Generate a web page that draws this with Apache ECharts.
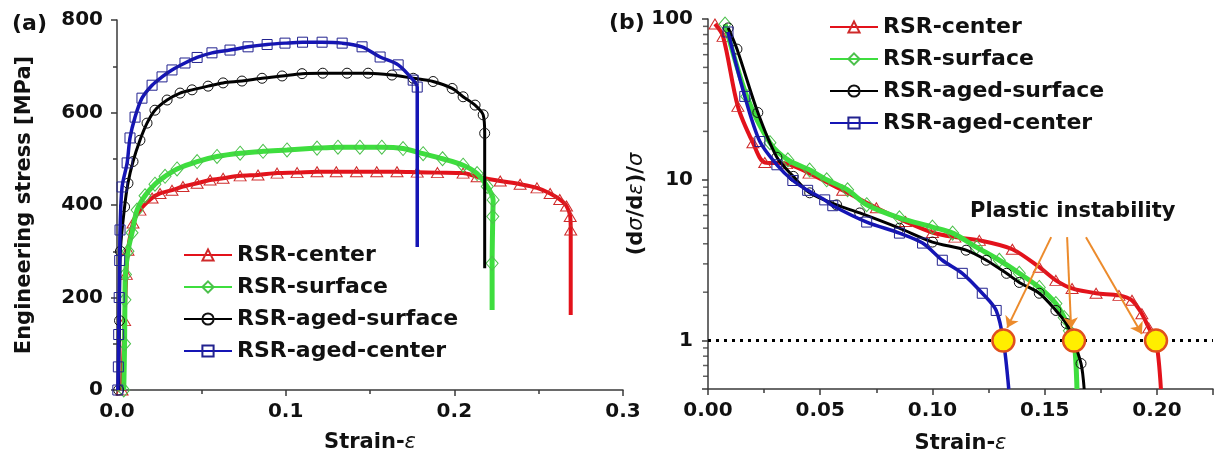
<!DOCTYPE html>
<html><head><meta charset="utf-8">
<script src="https://cdn.jsdelivr.net/npm/echarts@6/dist/echarts.min.js"></script>
<style>html,body{margin:0;padding:0;background:#fff}#c{width:1217px;height:464px}</style>
</head><body><div id="c"></div>
<script>
// ---------- data ----------
const seriesNames = ['RSR-center', 'RSR-surface', 'RSR-aged-surface', 'RSR-aged-center'];

// Panel (a): engineering stress [MPa] vs strain
const aCenter = [[0.003,0],[0.0045,150],[0.0055,250],[0.0065,302],[0.0095,361],[0.0136,389],[0.0208,415],[0.0255,425],[0.0326,432],[0.0391,440],[0.0475,447],[0.0552,454],[0.0629,458],[0.073,463],[0.0836,465],[0.0949,469],[0.1068,470],[0.1186,472],[0.13,472],[0.142,472],[0.154,472],[0.166,472],[0.178,471],[0.19,470],[0.2052,469],[0.2135,461],[0.2272,452],[0.239,445],[0.249,437],[0.2568,425],[0.2625,412],[0.2665,398],[0.2687,375],[0.269,346]];
const aCenterDrop = [[0.269,162]];
const aSurface = [[0.004,0],[0.0045,100],[0.0047,195],[0.005,250],[0.0065,300],[0.0089,340],[0.0119,389],[0.0166,420],[0.0225,445],[0.0285,462],[0.0356,478],[0.0475,494],[0.0593,505],[0.073,512],[0.0866,516],[0.1008,519],[0.1186,523],[0.131,525],[0.144,525],[0.157,525],[0.1696,522],[0.1815,511],[0.193,500],[0.2052,486],[0.2135,468],[0.2195,440],[0.223,411],[0.2228,375],[0.2224,274]];
const aSurfaceDrop = [[0.2224,173]];
const aAgedSurface = [[0.001,0],[0.0015,150],[0.002,300],[0.0045,396],[0.0065,447],[0.0095,494],[0.0136,540],[0.0178,577],[0.0225,605],[0.0297,627],[0.0374,642],[0.0445,649],[0.054,657],[0.0629,664],[0.0741,668],[0.086,674],[0.0979,679],[0.1097,684],[0.122,685],[0.1364,685],[0.1489,685],[0.163,681],[0.1756,674],[0.1874,667],[0.1987,652],[0.2052,634],[0.2123,616],[0.2171,595],[0.2180,555]];
const aAgedSurfaceDrop = [[0.2180,263]];
const aAgedCenter = [[0.0005,0],[0.0008,50],[0.001,120],[0.0013,200],[0.0016,280],[0.0018,346],[0.003,439],[0.006,491],[0.0077,545],[0.0107,590],[0.0148,631],[0.0208,659],[0.0267,677],[0.0326,692],[0.0403,707],[0.0475,719],[0.0563,729],[0.067,735],[0.0777,742],[0.089,747],[0.0996,750],[0.11,752],[0.1216,752],[0.1335,750],[0.1453,742],[0.156,720],[0.1667,703],[0.1756,670],[0.178,655]];
const aAgedCenterDrop = [[0.178,309]];

// Panel (b): (dσ/dε)/σ vs strain (log scale)
const bCenter = [[0.0031,93],[0.0067,78],[0.0133,28.6],[0.02,17],[0.0253,12.8],[0.035,12.6],[0.045,11.0],[0.06,8.6],[0.075,6.7],[0.088,5.5],[0.1,4.7],[0.11,4.4],[0.1209,4.2],[0.1356,3.7],[0.1476,2.86],[0.155,2.37],[0.1622,2.11],[0.1729,1.97],[0.1831,1.91],[0.1889,1.78],[0.1933,1.47],[0.1964,1.2]];
const bCenterDrop = [[0.1996,1.0],[0.2018,0.5]];
const bSurface = [[0.0076,93],[0.0173,33],[0.0276,17],[0.0356,13.3],[0.0453,11.5],[0.0529,10],[0.0622,8.66],[0.0707,7.0],[0.0853,5.8],[0.1,5.08],[0.109,4.66],[0.1196,3.81],[0.1298,3.16],[0.1387,2.62],[0.1476,2.14],[0.155,1.7],[0.1587,1.39],[0.161,1.15]];
const bSurfaceDrop = [[0.1631,1.0],[0.1644,0.5]];
const bAgedSurface = [[0.009,88],[0.0129,65],[0.0222,26.2],[0.0307,13.8],[0.038,10.5],[0.0453,8.3],[0.0573,6.98],[0.0676,6.22],[0.0853,5.0],[0.1,4.1],[0.115,3.65],[0.124,3.16],[0.133,2.62],[0.1387,2.3],[0.1476,1.97],[0.155,1.54],[0.1596,1.28],[0.1618,1.1],[0.1662,0.72]];
const bAgedSurfaceDrop = [[0.1676,0.5]];
const bAgedCenter = [[0.0089,83],[0.0164,33],[0.0231,17.3],[0.0307,12.4],[0.0378,9.9],[0.0444,8.6],[0.052,7.5],[0.0556,6.9],[0.0707,5.46],[0.0853,4.66],[0.0956,4.04],[0.1044,3.16],[0.1133,2.62],[0.1222,1.97],[0.1284,1.54]];
const bAgedCenterDrop = [[0.1316,1.0],[0.134,0.5]];

const instabilityStrain = [0.1316, 0.1631, 0.1996];
const arrowStart = [[0.1529,4.4],[0.1600,4.4],[0.1684,4.4]];
const arrowEnd = [[0.1333,1.2],[0.1618,1.19],[0.1933,1.1]];
const logMinorTicks = [0.6,0.7,0.8,0.9,2,3,4,5,6,7,8,9,20,30,40,50,60,70,80,90];

// ---------- styles ----------
const FONT = 'DejaVu Sans';
const styles = [
  {color:'#e3121b', mark:'#cf2a2a', symbol:'triangle', size:[12,10], width:4, z:3},
  {color:'#3ede3e', mark:'#4cc04c', symbol:'diamond', size:[12,14], width:5, z:4},
  {color:'#000000', mark:'#111111', symbol:'circle', size:10, width:3, z:5},
  {color:'#1515b5', mark:'#22228f', symbol:'rect', size:10, width:3.5, z:6}
];
const aSets = [[aCenter,aCenterDrop],[aSurface,aSurfaceDrop],[aAgedSurface,aAgedSurfaceDrop],[aAgedCenter,aAgedCenterDrop]];
const bSets = [[bCenter,bCenterDrop],[bSurface,bSurfaceDrop],[bAgedSurface,bAgedSurfaceDrop],[bAgedCenter,bAgedCenterDrop]];

function mkSeries(sets, axisIdx) {
  return sets.map((s, i) => {
    const st = styles[i];
    return {
      type: 'line', name: seriesNames[i], xAxisIndex: axisIdx, yAxisIndex: axisIdx,
      data: s[0].map(p => p).concat(s[1].map(p => ({value: p, symbol: 'none'}))),
      smooth: 0.3, symbol: st.symbol, symbolSize: st.size, showSymbol: true,
      lineStyle: {color: st.color, width: st.width},
      itemStyle: {color: 'rgba(255,255,255,0)', borderColor: st.mark, borderWidth: 1},
      emphasis: {disabled: true}, z: st.z, clip: true
    };
  });
}

const axisLine = {show: true, lineStyle: {color: '#3a3a3a', width: 1.5}};
const axisTick = {show: true, inside: false, length: 6, lineStyle: {color: '#3a3a3a', width: 1.5}};
const minorTick = {show: true, splitNumber: 2, length: 4, lineStyle: {color: '#3a3a3a', width: 1.5}};
const labelStyle = {fontFamily: FONT, fontWeight: 'bold', fontSize: 20, color: '#111'};
const nameRich = {
  b: {fontFamily: FONT, fontWeight: 'bold', fontSize: 21, color: '#111'},
  i: {fontFamily: FONT, fontStyle: 'italic', fontSize: 21, color: '#111'}
};

const chart = echarts.init(document.getElementById('c'), null, {renderer: 'canvas'});
const legendBase = {
  orient: 'vertical', padding: 0, itemWidth: 48, itemHeight: 14, itemGap: 8,
  selectedMode: false, data: seriesNames,
  textStyle: {fontFamily: FONT, fontWeight: 'bold', fontSize: 22, color: '#111', lineHeight: 24}
};
chart.setOption({
  animation: false,
  backgroundColor: '#fff',
  grid: [
    {left: 117, top: 20, width: 506, height: 370},
    {left: 708, top: 19, width: 505, height: 370}
  ],
  legend: [
    Object.assign({left: 183, top: 243}, legendBase),
    Object.assign({left: 829, top: 15}, legendBase)
  ],
  xAxis: [
    {type: 'value', gridIndex: 0, min: 0, max: 0.3, interval: 0.1,
     axisLine, axisTick, minorTick, splitLine: {show: false},
     axisLabel: Object.assign({margin: 12, formatter: v => v.toFixed(1)}, labelStyle),
     name: '{b|Strain-}{i|ε}', nameLocation: 'middle', nameGap: 42,
     nameTextStyle: {rich: nameRich}},
    {type: 'value', gridIndex: 1, min: 0, max: 0.225, interval: 0.05,
     axisLine, axisTick, minorTick, splitLine: {show: false},
     axisLabel: Object.assign({margin: 12, formatter: v => Math.abs(v / 0.05 - Math.round(v / 0.05)) < 1e-6 ? v.toFixed(2) : ''}, labelStyle),
     name: '{b|Strain-}{i|ε}', nameLocation: 'middle', nameGap: 44,
     nameTextStyle: {rich: nameRich}}
  ],
  yAxis: [
    {type: 'value', gridIndex: 0, min: 0, max: 800, interval: 200,
     axisLine, axisTick, minorTick, splitLine: {show: false},
     axisLabel: Object.assign({margin: 14}, labelStyle),
     name: '{b|Engineering stress [MPa]}', nameLocation: 'middle', nameGap: 82,
     nameTextStyle: {rich: nameRich}},
    {type: 'log', logBase: 10, gridIndex: 1, min: 0.5, max: 100,
     axisLine, axisTick, minorTick: {show: false}, splitLine: {show: false},
     axisLabel: Object.assign({margin: 15, formatter: v => {
       const l = Math.log10(v); return Math.abs(l - Math.round(l)) < 1e-6 ? String(Math.round(v)) : '';
     }}, labelStyle),
     name: '{b|(d}{i|σ}{b|/d}{i|ε}{b|)/}{i|σ}', nameLocation: 'middle', nameGap: 56,
     nameTextStyle: {rich: nameRich}}
  ],
  graphic: [
    {type: 'text', left: 12, top: 13, style: {text: '(a)', font: 'bold 22px "DejaVu Sans"', fill: '#111'}},
    {type: 'text', left: 609, top: 12, style: {text: '(b)', font: 'bold 22px "DejaVu Sans"', fill: '#111'}},
    {type: 'text', left: 970, top: 201, style: {text: 'Plastic instability', font: 'bold 21px "DejaVu Sans"', fill: '#111'}}
  ],
  series: [
    {type: 'scatter', xAxisIndex: 1, yAxisIndex: 1, data: logMinorTicks.map(v => [0, v]),
     symbol: 'rect', symbolSize: [5, 1.5], symbolOffset: [-2.5, 0], clip: false, silent: true,
     itemStyle: {color: '#3a3a3a'}, z: 1,
     markLine: {silent: true, symbol: 'none', label: {show: false},
       lineStyle: {color: '#000', type: [3, 5], width: 3}, data: [{yAxis: 1}]}}
  ].concat(mkSeries(aSets, 0)).concat(mkSeries(bSets, 1)).concat([
    {type: 'lines', coordinateSystem: 'cartesian2d', xAxisIndex: 1, yAxisIndex: 1,
     data: arrowStart.map((s, i) => ({coords: [s, arrowEnd[i]]})),
     symbol: ['none', 'arrow'], symbolSize: 11, silent: true,
     lineStyle: {color: '#ec8b2c', width: 2, opacity: 1, curveness: 0}, z: 8},
    {type: 'scatter', xAxisIndex: 1, yAxisIndex: 1, data: instabilityStrain.map(s => [s, 1]),
     symbol: 'circle', symbolSize: 22, silent: true,
     itemStyle: {color: '#ffee00', borderColor: '#e0501e', borderWidth: 2.5, opacity: 1}, z: 10}
  ])
});
</script></body></html>
